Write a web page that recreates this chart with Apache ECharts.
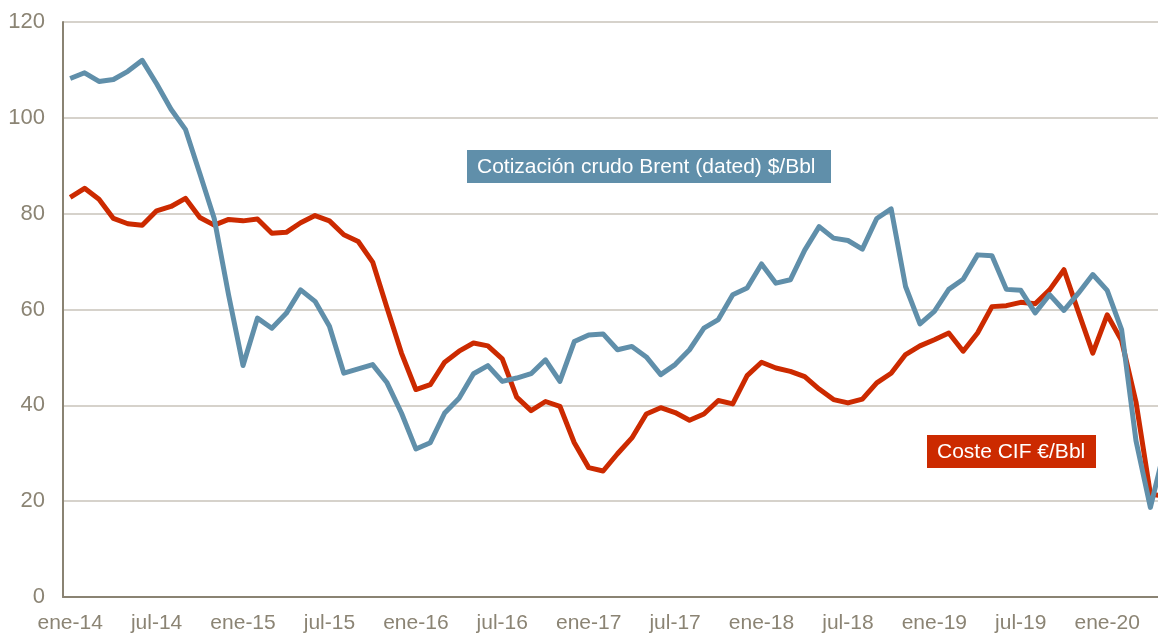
<!DOCTYPE html>
<html>
<head>
<meta charset="utf-8">
<script src="https://cdn.jsdelivr.net/npm/echarts@6/dist/echarts.min.js"></script>
<style>
  html, body { margin: 0; padding: 0; background: #fff; overflow: hidden; }
  #chart { width: 1172px; height: 634px; }
</style>
</head>
<body>
<div id="chart"></div>
<script>
// meses ene-14 .. may-20
var months = [
  'ene-14','feb-14','mar-14','abr-14','may-14','jun-14','jul-14','ago-14','sep-14','oct-14','nov-14','dic-14',
  'ene-15','feb-15','mar-15','abr-15','may-15','jun-15','jul-15','ago-15','sep-15','oct-15','nov-15','dic-15',
  'ene-16','feb-16','mar-16','abr-16','may-16','jun-16','jul-16','ago-16','sep-16','oct-16','nov-16','dic-16',
  'ene-17','feb-17','mar-17','abr-17','may-17','jun-17','jul-17','ago-17','sep-17','oct-17','nov-17','dic-17',
  'ene-18','feb-18','mar-18','abr-18','may-18','jun-18','jul-18','ago-18','sep-18','oct-18','nov-18','dic-18',
  'ene-19','feb-19','mar-19','abr-19','may-19','jun-19','jul-19','ago-19','sep-19','oct-19','nov-19','dic-19',
  'ene-20','feb-20','mar-20','abr-20','may-20'
];

// Cotización crudo Brent (dated) $/Bbl
var brent = [
  108.2, 109.4, 107.6, 108.0, 109.7, 112.0, 107.1, 101.8, 97.6, 88.4, 79.0, 63.0,
  48.3, 58.2, 56.1, 59.2, 64.1, 61.7, 56.5, 46.7, 47.6, 48.5, 44.7, 38.4,
  30.9, 32.2, 38.4, 41.5, 46.6, 48.3, 45.0, 45.7, 46.6, 49.5, 45.0, 53.3,
  54.7, 54.9, 51.6, 52.3, 50.1, 46.4, 48.5, 51.6, 56.1, 57.9, 63.1, 64.5,
  69.5, 65.5, 66.2, 72.4, 77.3, 74.9, 74.4, 72.6, 79.0, 81.0, 64.8, 57.0,
  59.6, 64.2, 66.3, 71.4, 71.2, 64.2, 64.0, 59.3, 63.1, 59.8, 63.4, 67.3,
  64.0, 55.8, 32.6, 18.7, 31.0
];

// Coste CIF €/Bbl
var costeCif = [
  83.4, 85.3, 83.0, 79.0, 77.9, 77.6, 80.6, 81.5, 83.2, 79.2, 77.6, 78.8,
  78.5, 78.9, 75.9, 76.1, 78.1, 79.6, 78.5, 75.6, 74.2, 69.9, 60.3, 50.9,
  43.3, 44.3, 49.0, 51.3, 53.0, 52.4, 49.7, 41.7, 38.9, 40.8, 39.8, 32.2,
  27.0, 26.3, 29.9, 33.2, 38.2, 39.5, 38.5, 36.9, 38.2, 41.0, 40.3, 46.2,
  49.0, 47.8, 47.1, 46.0, 43.4, 41.2, 40.5, 41.3, 44.7, 46.7, 50.6, 52.4,
  53.7, 55.1, 51.3, 55.1, 60.6, 60.8, 61.5, 61.2, 64.1, 68.3, 59.5, 50.9,
  58.9, 53.5, 40.7, 21.5, 21.0
];

var yTicks = { min: 0, max: 120, step: 20 };

var axisGrey = '#8a8373';
var labelGrey = '#8b8474';
var blue = '#608faa';
var red = '#cc2a00';
var fontFam = '"Liberation Sans", Arial, sans-serif';

// el div es algo más ancho que la ventana: el gráfico original sale cortado por la derecha
var myChart = echarts.init(document.getElementById('chart'), null, { renderer: 'canvas' });

var option = {
  animation: false,
  backgroundColor: '#fff',
  grid: {
    left: 63,
    right: 0,
    top: 22,
    bottom: 36
  },
  xAxis: {
    type: 'category',
    data: months,
    boundaryGap: true,
    axisLine: { show: true, lineStyle: { color: axisGrey, width: 2 } },
    axisTick: { show: false },
    axisLabel: {
      interval: 5,
      color: labelGrey,
      fontSize: 21,
      fontFamily: fontFam,
      margin: 16
    },
    splitLine: { show: false }
  },
  yAxis: {
    type: 'value',
    min: yTicks.min,
    max: yTicks.max,
    interval: yTicks.step,
    axisLine: { show: true, lineStyle: { color: axisGrey, width: 2 } },
    axisTick: { show: false },
    axisLabel: {
      color: labelGrey,
      fontSize: 22,
      fontFamily: fontFam,
      margin: 18
    },
    splitLine: { show: true, lineStyle: { color: '#c8c3ba', width: 1.5 } }
  },
  series: [
    {
      name: 'Cotización crudo Brent (dated) $/Bbl',
      type: 'line',
      data: brent,
      symbol: 'none',
      lineStyle: { color: blue, width: 5, join: 'round' },
      z: 3
    },
    {
      name: 'Coste CIF €/Bbl',
      type: 'line',
      data: costeCif,
      symbol: 'none',
      lineStyle: { color: red, width: 5, join: 'round' },
      z: 2
    }
  ],
  graphic: [
    {
      type: 'group',
      left: 467,
      top: 150,
      children: [
        { type: 'rect', shape: { x: 0, y: 0, width: 364, height: 33 }, style: { fill: blue } },
        {
          type: 'text', x: 10, y: 17,
          style: {
            text: 'Cotización crudo Brent (dated) $/Bbl',
            fill: '#fff', font: '21px ' + fontFam,
            verticalAlign: 'middle'
          }
        }
      ]
    },
    {
      type: 'group',
      left: 927,
      top: 435,
      children: [
        { type: 'rect', shape: { x: 0, y: 0, width: 169, height: 33 }, style: { fill: red } },
        {
          type: 'text', x: 10, y: 17,
          style: {
            text: 'Coste CIF €/Bbl',
            fill: '#fff', font: '21px ' + fontFam,
            verticalAlign: 'middle'
          }
        }
      ]
    }
  ]
};

myChart.setOption(option);
</script>
</body>
</html>
